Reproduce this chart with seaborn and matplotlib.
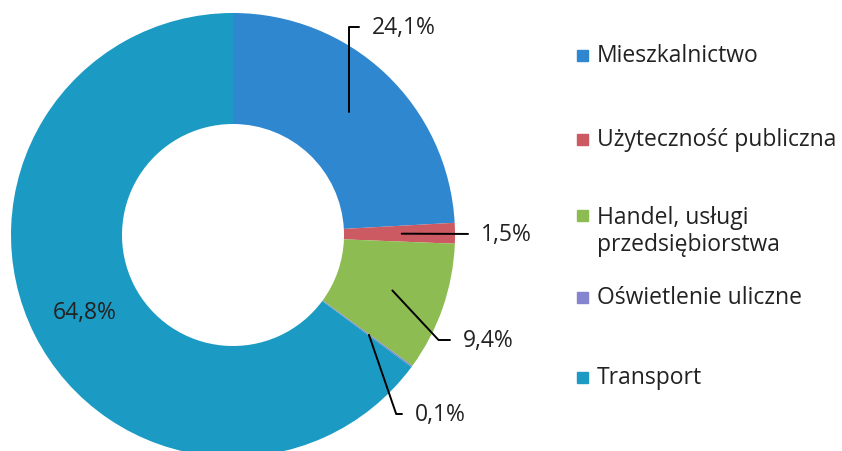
import numpy as np
import matplotlib
matplotlib.use("Agg")
import matplotlib.pyplot as plt
import seaborn as sns

sectors = ['Mieszkalnictwo', 'Użyteczność publiczna', 'Handel, usługi\nprzedsiębiorstwa',
           'Oświetlenie uliczne', 'Transport']
shares = [24.1, 1.5, 9.4, 0.1, 64.8]
share_labels = ['24,1%', '1,5%', '9,4%', '0,1%', '64,8%']
colors = ['#2f88cf', '#cc5a62', '#8dbd52', '#8584cf', '#1b9bc4']

sns.set_style('white')
plt.rcParams['font.family'] = ['Open Sans', 'DejaVu Sans']

W, H = 842, 452
fig = plt.figure(figsize=(W / 100, H / 100), dpi=100)
cx, cy, R = 233, 236, 222
ax = fig.add_axes([(cx - R) / W, (H - cy - R) / H, 2 * R / W, 2 * R / H])
wedges, _ = ax.pie(shares, colors=colors, startangle=90, counterclock=False,
                   radius=1, wedgeprops=dict(width=0.5, edgecolor='none'))
ax.set_xlim(-1, 1)
ax.set_ylim(-1, 1)
ax.set_aspect('equal')
ax.axis('off')


def px(x, y):
    return ((x - cx) / R, (cy - y) / R)


# label text positions (pixels) and connection styles
label_pos = [(372, 28), (481, 235), (463, 341), (415, 415)]
conn = ['angle,angleA=0,angleB=90,rad=0',
        'arc3',
        'angle,angleA=0,angleB=-47,rad=0',
        'angle,angleA=0,angleB=-71,rad=0']
txt_color = '#222222'
fs = 16.5
for i, (w, lab) in enumerate(zip(wedges, share_labels)):
    mid = np.deg2rad((w.theta1 + w.theta2) / 2)
    r = 0.76
    start = (r * np.cos(mid), r * np.sin(mid))
    if i < 4:
        ax.annotate(lab, xy=start, xytext=px(*label_pos[i]), fontsize=fs,
                    color=txt_color, ha='left', va='center',
                    arrowprops=dict(arrowstyle='-', color='black', lw=1.4,
                                    connectionstyle=conn[i], shrinkA=7, shrinkB=0,
                                    relpos=(0, 0.5)),
                    annotation_clip=False)
    else:
        ax.text(*px(85, 313), lab, fontsize=fs, color=txt_color,
                ha='center', va='center')

# legend
leg_y = [56, 140, 216, 298, 378]
line_gap = 31
for name, c, y in zip(sectors, colors, leg_y):
    fig.patches.append(plt.Rectangle((577 / W, 1 - (y + 6) / H), 11 / W, 11 / H,
                                     transform=fig.transFigure, color=c))
    n = name.count('\n')
    fig.text(597 / W, 1 - (y + n * line_gap / 2) / H, name, fontsize=fs,
             color=txt_color, ha='left', va='center', linespacing=1.2)

fig.savefig('out.png', dpi=100)
